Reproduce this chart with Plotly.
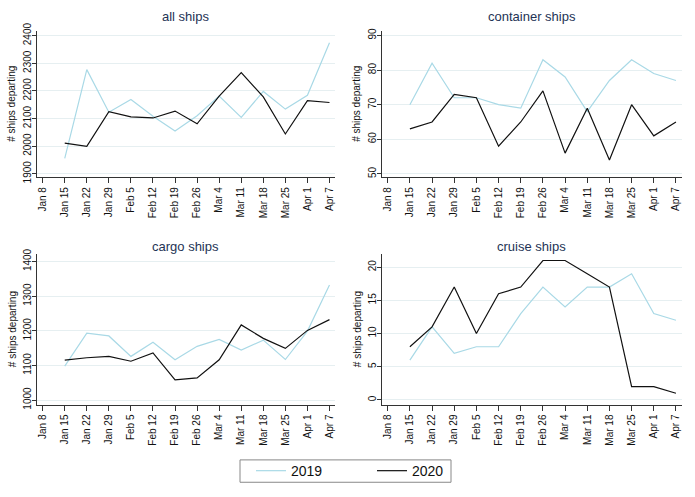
import plotly.graph_objects as go

weeks = ["Jan 8", "Jan 15", "Jan 22", "Jan 29", "Feb 5", "Feb 12", "Feb 19",
         "Feb 26", "Mar 4", "Mar 11", "Mar 18", "Mar 25", "Apr 1", "Apr 7"]
data_weeks = weeks[1:]

all_2019 = [1956, 2277, 2123, 2169, 2108, 2055, 2110, 2181, 2104, 2198, 2134, 2184, 2374]
all_2020 = [2011, 1999, 2125, 2106, 2102, 2127, 2081, 2181, 2266, 2178, 2044, 2165, 2158]

container_2019 = [70, 82, 72, 72, 70, 69, 83, 78, 68, 77, 83, 79, 77]
container_2020 = [63, 65, 73, 72, 58, 65, 74, 56, 69, 54, 70, 61, 65]

cargo_2019 = [1098, 1193, 1185, 1126, 1167, 1116, 1155, 1175, 1144, 1173, 1117, 1199, 1332]
cargo_2020 = [1115, 1122, 1126, 1112, 1136, 1058, 1064, 1116, 1217, 1178, 1149, 1201, 1232]

cruise_2019 = [6, 11, 7, 8, 8, 13, 17, 14, 17, 17, 19, 13, 12]
cruise_2020 = [8, 11, 17, 10, 16, 17, 21, 21, 19, 17, 2, 2, 1]

titles = ["all ships", "container ships", "cargo ships", "cruise ships"]
y_ticks = [
    [1900, 2000, 2100, 2200, 2300, 2400],
    [50, 60, 70, 80, 90],
    [1000, 1100, 1200, 1300, 1400],
    [0, 5, 10, 15, 20],
]
y_ranges = [[1888, 2418], [49.07, 91.4], [987, 1422], [-0.7, 22.0]]

series = [
    (all_2019, all_2020),
    (container_2019, container_2020),
    (cargo_2019, cargo_2020),
    (cruise_2019, cruise_2020),
]

W, H = 695, 497
C19 = "#a9d9e6"
C20 = "#111111"
GRID = "#e6eff1"
AXIS = "#333333"
TITLE_C = "#243355"
FONT = "Liberation Sans, Arial, sans-serif"
XTICK_SIZE = 10
YTICK_SIZE = 10

# pixel layout of plot areas: (left, right, top, bottom)
boxes = [
    (36.5, 335.0, 23.3, 174.0),
    (381.5, 681.5, 23.3, 174.0),
    (36.5, 335.0, 253.0, 408.0),
    (381.5, 681.5, 253.0, 408.0),
]

fig = go.Figure()
x_idx = list(range(len(weeks)))
data_idx = x_idx[1:]

layout = dict(
    width=W, height=H,
    margin=dict(l=0, r=0, t=0, b=0),
    paper_bgcolor="white", plot_bgcolor="white",
    font=dict(family=FONT, size=XTICK_SIZE, color="#111111"),
    showlegend=True,
    legend=dict(
        orientation="h", x=251 / W, xanchor="left",
        y=1 - 476.5 / H, yanchor="middle",
        borderwidth=0, bgcolor="rgba(0,0,0,0)",
        font=dict(size=14, color="#111111"),
        entrywidth=76, entrywidthmode="pixels",
        traceorder="normal",
    ),
    shapes=[dict(
        type="rect", xref="paper", yref="paper",
        x0=240 / W, x1=451 / W, y0=1 - 488 / H, y1=1 - 465 / H,
        line=dict(color="#888888", width=1), fillcolor="rgba(0,0,0,0)",
        layer="below",
    )],
)

annotations = []
for i in range(4):
    l, r, t, b = boxes[i]
    xa = "xaxis" if i == 0 else f"xaxis{i+1}"
    ya = "yaxis" if i == 0 else f"yaxis{i+1}"
    xr = "x" if i == 0 else f"x{i+1}"
    yr = "y" if i == 0 else f"y{i+1}"
    layout[xa] = dict(
        domain=[l / W, r / W], anchor=yr,
        range=[-0.28, 13.25],
        tickmode="array", tickvals=x_idx, ticktext=weeks,
        tickangle=-90, ticks="outside", ticklen=5, tickwidth=1, tickcolor=AXIS,
        showline=True, linecolor=AXIS, linewidth=1,
        showgrid=False, zeroline=False,
        tickfont=dict(size=XTICK_SIZE, color="#111111"),
    )
    layout[ya] = dict(
        domain=[1 - b / H, 1 - t / H], anchor=xr,
        range=y_ranges[i],
        tickmode="array", tickvals=y_ticks[i],
        tickangle=-90, ticks="outside", ticklen=4, tickwidth=1, tickcolor=AXIS,
        showline=True, linecolor=AXIS, linewidth=1,
        showgrid=True, gridcolor=GRID, gridwidth=1, zeroline=False,
        tickfont=dict(size=YTICK_SIZE, color="#111111"),
        ticklabelstandoff=-3,
    )
    s19, s20 = series[i]
    fig.add_trace(go.Scatter(
        x=data_idx, y=s19, mode="lines", name="2019",
        line=dict(color=C19, width=1.2), xaxis=xr, yaxis=yr,
        showlegend=(i == 0), legendgroup="2019",
    ))
    fig.add_trace(go.Scatter(
        x=data_idx, y=s20, mode="lines", name="2020",
        line=dict(color=C20, width=1.2), xaxis=xr, yaxis=yr,
        showlegend=(i == 0), legendgroup="2020",
    ))
    title_y = 9 if i < 2 else 245
    annotations.append(dict(
        text=titles[i], xref="paper", yref="paper",
        x=(l + r) / 2 / W, y=1 - title_y / H, xanchor="center", yanchor="middle",
        showarrow=False, font=dict(size=13, color=TITLE_C, family=FONT),
    ))
    annotations.append(dict(
        text="# ships departing", xref="paper", yref="paper",
        x=(l - 24.5) / W, y=1 - (t + b) / 2 / H, xanchor="center", yanchor="middle",
        textangle=-90, showarrow=False,
        font=dict(size=10, color="#111111", family=FONT),
    ))

layout["annotations"] = annotations
fig.update_layout(**layout)
fig.write_html(
    "out.html",
    config={"displayModeBar": False},
    post_script="document.body.style.margin='0';document.body.style.overflow='hidden';",
)
